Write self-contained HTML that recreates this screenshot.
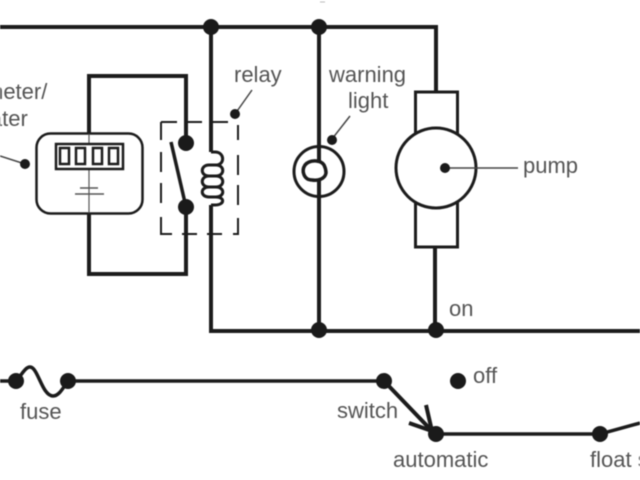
<!DOCTYPE html>
<html>
<head>
<meta charset="utf-8">
<style>
html,body{margin:0;padding:0;background:#fff;width:640px;height:480px;overflow:hidden}
svg{display:block;filter:blur(0.5px)}
text{font-family:"Liberation Sans",sans-serif;font-size:22px;fill:#555}
</style>
</head>
<body>
<svg width="640" height="480" viewBox="0 0 640 480" xmlns="http://www.w3.org/2000/svg">
<rect width="640" height="480" fill="#fff"/>
<path d="M320 2H325" stroke="#bbb" stroke-width="1"/>
<g fill="none" stroke="#1c1c1c" stroke-linejoin="miter">
  <!-- top rail -->
  <path d="M0 27H436V92" stroke-width="4"/>
  <!-- relay branch -->
  <path d="M211 27V152M211 205V331" stroke-width="4"/>
  <!-- bottom rail -->
  <path d="M209 331H640" stroke-width="4"/>
  <!-- warning light branch -->
  <path d="M319 27V160M319 186V331" stroke-width="4"/>
  <!-- pump lower wire -->
  <path d="M435 247V331" stroke-width="4"/>
  <!-- meter loop -->
  <path d="M89 134V76H186V143M186 207V274H89V213" stroke-width="4"/>
  <!-- meter box -->
  <rect x="36.500" y="133.500" width="106" height="80" rx="14" stroke-width="2.500" fill="#fff"/>
  <path d="M89 134V213" stroke-width="1.200" stroke="#555"/>
  <rect x="56" y="144" width="67" height="25" stroke-width="2.500" fill="#fff"/>
  <rect x="60" y="148" width="9" height="16" stroke-width="2.500"/>
  <rect x="76" y="148" width="9" height="16" stroke-width="2.500"/>
  <rect x="93" y="148" width="9" height="16" stroke-width="2.500"/>
  <rect x="109" y="148" width="9" height="16" stroke-width="2.500"/>
  <path d="M80 188H98M75 194H104" stroke-width="1.600" stroke="#555"/>
  <!-- relay dashes -->
  <path d="M161 122H177M185 122H202M213 122H228M161 122V140M161 152V172M161 183V203M161 217V234H172M182 234H197M207 234H222M233 234H238V218M238 205V185M238 175V155M238 140V125" stroke-width="2"/>
  <!-- switch blade -->
  <path d="M171 142L186 207" stroke-width="3.500"/>
  <!-- coil -->
  <path d="M211 152H215C225 152 225 165 216 165H209C200 165 200 176 209 176H216C225 176 225 165 216 165M209 176C200 176 200 187 209 187H216C225 187 225 176 216 176M209 187C200 187 200 197 209 197H216C225 197 225 187 216 187M216 197C225 197 225 205 215 205H211" stroke-width="3"/>
  <!-- lamp -->
  <circle cx="319" cy="171.500" r="25" stroke-width="3" fill="#fff"/>
  <path d="M319 146V163M319 180V197" stroke-width="4"/>
  <path d="M324 165C320 159 309 160 305 165C301 171 304 180 312 180C318 181 325 179 326 173C326 170 325 167 324 165Z" stroke-width="3.500"/>
  <!-- pump -->
  <rect x="415.500" y="92" width="42" height="155" stroke-width="3" fill="#fff"/>
  <circle cx="436" cy="168" r="40" stroke-width="3" fill="#fff"/>
  <!-- leaders -->
  <path d="M445 168H518" stroke-width="1.500" stroke="#444"/>
  <path d="M332 139L350 116" stroke-width="1.500" stroke="#444"/>
  <path d="M235 114L252 90" stroke-width="1.500" stroke="#444"/>
  <path d="M0 156L25 164" stroke-width="1.500" stroke="#444"/>
  <!-- lower circuit -->
  <path d="M0 381H16M68 381H384" stroke-width="3.500"/>
  <path d="M16 381C21 376 25 367 30 367C38 367 42 396 53 396C59 396 63 388 68 381" stroke-width="3.500"/>
  <path d="M384 381L432 431" stroke-width="4"/>
  <path d="M426 405L432 431L409 423" stroke-width="4"/>
  <path d="M436 434H600L640 423" stroke-width="3.500"/>
</g>
<g fill="#1a1a1a">
  <circle cx="211" cy="27" r="8"/>
  <circle cx="319" cy="27" r="8"/>
  <circle cx="186" cy="143" r="8"/>
  <circle cx="186" cy="207" r="8"/>
  <circle cx="235" cy="114" r="5"/>
  <circle cx="332" cy="140" r="5"/>
  <circle cx="445" cy="168" r="5"/>
  <circle cx="25" cy="164" r="5"/>
  <circle cx="319" cy="330" r="8"/>
  <circle cx="436" cy="330" r="8"/>
  <circle cx="16" cy="381" r="8"/>
  <circle cx="68" cy="381" r="8"/>
  <circle cx="384" cy="381" r="8"/>
  <circle cx="458" cy="381" r="8"/>
  <circle cx="436" cy="434" r="8"/>
  <circle cx="600" cy="434" r="8"/>
</g>
<text x="-15" y="99">meter/</text>
<text x="-26" y="126">water</text>
<text x="234" y="82">relay</text>
<text x="329" y="82">warning</text>
<text x="348" y="108">light</text>
<text x="523" y="173">pump</text>
<text x="449" y="316">on</text>
<text x="473" y="383">off</text>
<text x="20" y="419">fuse</text>
<text x="337" y="418">switch</text>
<text x="393" y="467">automatic</text>
<text x="590" y="467">float switch</text>
</svg>
</body>
</html>
